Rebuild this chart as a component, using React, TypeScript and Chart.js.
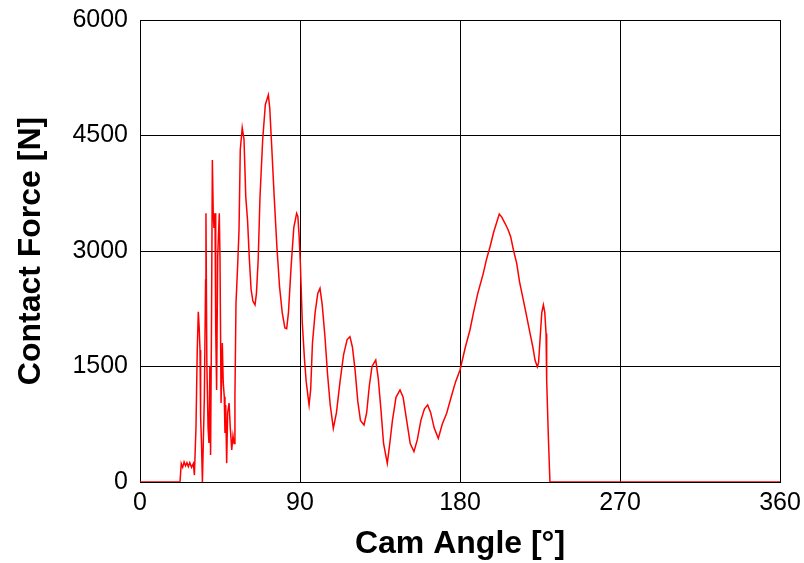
import React, { useEffect, useRef } from "react";
import { Chart, registerables } from "chart.js";

Chart.register(...registerables);

const camAngle: number[] = [
  0, 22.5, 23.2, 24, 24.8, 25.6, 26.4, 27.2, 28, 29, 30, 30.6, 31.5, 32.2, 32.8, 33.3, 33.75, 34.1, 34.6, 35.1,
  35.6, 36.2, 36.9, 37.1, 37.6, 38.3, 38.8, 39.3, 39.7, 40.2, 40.7, 41.2, 41.6, 42.2, 42.6, 43.1, 43.7, 44.6,
  45.0, 45.6, 46.3, 46.8, 47.4, 47.8, 48.2, 48.75, 49.3, 50.1, 50.8, 51.6, 52.3, 52.9, 53.4, 54.0, 54.9, 55.7,
  56.4, 57.5, 58.5, 59.5, 60.5, 61.5, 62.5, 63.5, 64.7, 65.5, 66.5, 67.5, 69, 70.5, 72.2, 73, 74, 75.5, 77,
  78.5, 80, 81.5, 82.5, 83.5, 85, 86.5, 88.1, 88.8, 89.5, 90.2, 91.3, 92.5, 93.5, 95.1, 96, 97, 98.5, 100,
  101.25, 102.5, 104, 105.5, 107, 108.75, 110.5, 112.5, 114.5, 116.5, 118.1, 119.5, 121, 122.5, 124, 126,
  127.5, 129, 130.5, 132.6, 134, 135.5, 137, 139.1, 140.5, 142, 144, 146.25, 148, 150, 152, 154.1, 156, 158,
  160, 161.8, 163.5, 165.5, 167.8, 170, 172.5, 175, 177.5, 180, 183, 185.6, 187.5, 190, 193.1, 195, 196.9,
  199, 202.1, 203.5, 205.3, 207, 208.5, 210, 211.9, 213.5, 215.6, 217.5, 219.4, 221, 222.2, 223.5, 224.2,
  225, 226, 226.9, 227.7, 228.4, 228.75, 229.7, 230.6, 360,
];

const contactForce: number[] = [
  0, 0, 240, 190, 260, 210, 250, 200, 250, 190, 240, 90, 718, 1714, 2212, 2000, 1714, 850, 500, 0,
  500, 1100, 2623, 3490, 1545, 700, 506, 1500, 350, 2000, 4182, 3490, 3300, 3490, 1974, 1195, 2926, 3490,
  2900, 1026, 1805, 1300, 1108, 636, 1000, 245, 900, 1026, 700, 415, 600, 500, 1108, 2325, 2796, 3273,
  4312, 4600, 4450, 3700, 3400, 2900, 2500, 2350, 2300, 2450, 2900, 3700, 4442, 4900, 5026, 4850, 4400, 3700, 3056,
  2536, 2200, 2000, 1990, 2200, 2800, 3300, 3490, 3450, 3200, 2842, 2065, 1600, 1300, 1000, 1200, 1800, 2200, 2450,
  2515, 2300, 1900, 1400, 1000, 697, 900, 1300, 1650, 1850, 1887, 1750, 1450, 1050, 800, 740,
  900, 1250, 1500, 1584, 1350, 950, 500, 242, 500, 800, 1100, 1195, 1100, 800, 500, 394, 550, 800,
  950, 1000, 900, 700, 567, 750, 892, 1100, 1300, 1455, 1750, 1974, 2190, 2450, 2710, 2900, 3056,
  3250, 3481, 3440, 3360, 3280, 3186, 3020, 2840, 2600, 2364, 2150, 1930, 1750, 1584, 1497, 1550,
  1844, 2200, 2299, 2200, 1930, 1325, 588, 0, 0,
];

const xTicks: number[] = [0, 90, 180, 270, 360];
const yTicks: number[] = [0, 1500, 3000, 4500, 6000];
const xTitle = "Cam Angle [°]";
const yTitle = "Contact Force [N]";

export default function App() {
  const ref = useRef<HTMLCanvasElement>(null);
  useEffect(() => {
    document.body.style.margin = "0";
    const canvas = ref.current!;
    const font = "'Liberation Sans', Arial, sans-serif";
    const chart = new Chart(canvas, {
      type: "line",
      data: {
        datasets: [
          {
            data: camAngle.map((a, i) => ({ x: a, y: contactForce[i] })),
            borderColor: "#ff0000",
            borderWidth: 1.5,
            pointRadius: 0,
            tension: 0,
            fill: false,
          },
        ],
      },
      options: {
        responsive: false,
        animation: false,
        layout: { padding: { left: 0, right: 24, top: 20, bottom: 0 } },
        plugins: { legend: { display: false }, tooltip: { enabled: false } },
        scales: {
          x: {
            type: "linear",
            min: 0,
            max: 360,
            afterBuildTicks: (s: any) => {
              s.ticks = xTicks.map((v) => ({ value: v }));
            },
            afterFit: (s: any) => {
              s.height = 81;
              s.paddingLeft = 0;
              s.paddingRight = 0;
            },
            ticks: {
              color: "#000",
              font: { family: font, size: 25 },
              padding: 6,
              maxRotation: 0,
              callback: (v: any) => String(v),
            },
            grid: { color: "#000", lineWidth: 1, drawTicks: false },
            border: { color: "#000", width: 1 },
            title: {
              display: true,
              text: xTitle,
              color: "#000",
              font: { family: font, size: 32, weight: "bold" },
              padding: { top: 0, bottom: 0 },
            },
          },
          y: {
            type: "linear",
            min: 0,
            max: 6000,
            afterBuildTicks: (s: any) => {
              s.ticks = yTicks.map((v) => ({ value: v }));
            },
            afterFit: (s: any) => {
              s.width = 140;
              s.paddingTop = 0;
              s.paddingBottom = 0;
            },
            ticks: {
              color: "#000",
              font: { family: font, size: 25 },
              padding: 12,
              callback: (v: any) => String(v),
            },
            grid: { color: "#000", lineWidth: 1, drawTicks: false },
            border: { color: "#000", width: 1 },
            title: {
              display: true,
              text: yTitle,
              color: "#000",
              font: { family: font, size: 32, weight: "bold" },
              padding: { top: 12, bottom: 0 },
            },
          },
        },
      },
    });
    return () => chart.destroy();
  }, []);
  return (
    <div style={{ width: 804, height: 563, background: "#fff" }}>
      <canvas ref={ref} width={804} height={563} style={{ display: "block" }} />
    </div>
  );
}
